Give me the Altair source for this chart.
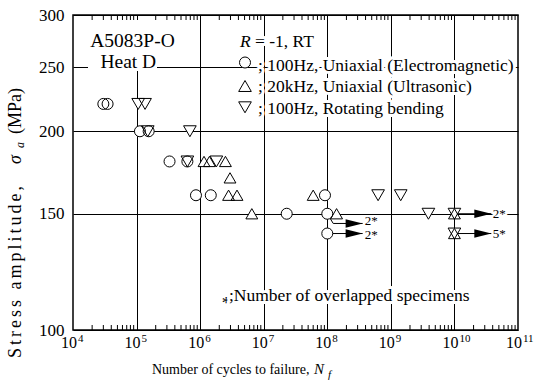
import altair as alt
import pandas as pd

W, H = 445, 315
FONT = "Liberation Serif"

# ---------------- data ----------------
series_names = ["100Hz, Uniaxial (Electromagnetic)",
                "20kHz, Uniaxial (Ultrasonic)",
                "100Hz, Rotating bending"]
series_shapes = ["circle", "triangle-up", "triangle-down"]

circ_N = [3.0e4, 3.5e4, 1.13e5, 1.55e5, 3.3e5, 6.3e5, 8.6e5, 1.47e6, 2.3e7, 9.2e7, 1.0e8, 1.0e8]
circ_S = [220, 220, 200, 200, 180, 180, 160, 160, 150, 160, 150, 140]
up_N = [1.15e6, 1.4e6, 2.5e6, 2.95e6, 2.8e6, 3.8e6, 6.5e6, 6.0e7, 1.4e8, 1.0e10, 1.0e10]
up_S = [180, 180, 180, 170, 160, 160, 150, 160, 150, 150, 140]
dn_N = [1.06e5, 1.36e5, 1.5e5, 6.9e5, 6.3e5, 1.8e6, 6.3e8, 1.43e9, 3.9e9, 1.0e10, 1.0e10]
dn_S = [220, 220, 200, 200, 180, 180, 160, 160, 150, 150, 140]

# run-out arrows (polyline from specimen to arrow tip)
arrow_id = ["a", "a", "a", "b", "b", "c", "c", "d", "d"]
arrow_seq = [0, 1, 2, 0, 1, 0, 1, 0, 1]
arrow_N = [1.0e8, 1.24e8, 3.6e8, 1.0e8, 3.6e8, 1.0e10, 3.8e10, 1.0e10, 3.8e10]
arrow_S = [150, 145, 145, 140, 140, 150, 150, 140, 140]
tip_N = [3.6e8, 3.6e8, 3.8e10, 3.8e10]
tip_S = [145, 140, 150, 140]
run_labels = ["2*", "2*", "2*", "5*"]
run_label_N = [3.9e8, 3.9e8, 4.0e10, 4.0e10]
run_label_S = [146.5, 139.3, 150, 140]
run_label_halo = [False, False, True, False]

decade_exps = [4, 5, 6, 7, 8, 9, 10, 11]
y_ticks = [100, 150, 200, 250, 300]
x_grid = [1e5, 1e6, 1e7, 1e8, 1e9, 1e10]
minor_N = [m * 10 ** k for k in range(4, 11) for m in range(2, 10)]

# ---------------- scales / axes ----------------
xscale = alt.Scale(type="log", domain=[1e4, 1e11], nice=False)
yscale = alt.Scale(type="log", domain=[100, 300], nice=False)
xaxis = alt.Axis(values=x_grid, grid=True, labels=False, ticks=False, domain=False,
                 title=None, gridColor="black", gridWidth=1, gridOpacity=1)
yaxis = alt.Axis(values=y_ticks, grid=True, ticks=False, domain=False, title=None,
                 labelFont=FONT, labelFontSize=17, labelColor="black", labelPadding=9,
                 labelOverlap=False, format="d", gridColor="black", gridWidth=1, gridOpacity=1)


def X():
    return alt.X("N:Q", scale=xscale, axis=xaxis)


def Y():
    return alt.Y("S:Q", scale=yscale, axis=yaxis)


pts = pd.DataFrame({
    "N": circ_N + up_N + dn_N,
    "S": circ_S + up_S + dn_S,
    "series": [series_names[0]] * len(circ_N) + [series_names[1]] * len(up_N)
              + [series_names[2]] * len(dn_N),
})
shape_enc = alt.Shape("series:N", scale=alt.Scale(domain=series_names, range=series_shapes), legend=None)
size_enc = alt.Size("series:N", scale=alt.Scale(domain=series_names, range=[121, 160, 160]), legend=None)

ARROW = "M-2,-0.5L0,0L-2,0.5Z"


def one():
    return pd.DataFrame({"k": [0]})


def label(s, x, y, size=17.5, italic=False, align="left", angle=0, halo=True, halo_w=6):
    df = pd.DataFrame({"t": [s]})
    base = alt.Chart(df).encode(text="t:N", x=alt.value(x), y=alt.value(y))
    kw = dict(font=FONT, fontSize=size, align=align, baseline="alphabetic")
    if italic:
        kw["fontStyle"] = "italic"
    if angle:
        kw["angle"] = angle
    out = []
    if halo:
        out.append(base.mark_text(fill="white", stroke="white", strokeWidth=halo_w,
                                  strokeJoin="round", **kw))
    out.append(base.mark_text(color="black", **kw))
    return out


def box(x1, x2, y1, y2):
    return alt.Chart(one()).mark_rect(color="white").encode(
        x=alt.value(x1), x2=alt.value(x2), y=alt.value(y1), y2=alt.value(y2))


layers = []

# white boxes behind the sample label
layers.append(box(15, 104, 5, 37))
layers.append(box(15, 84, 37, 56))

# minor ticks (inward, bottom and top)
minor_df = pd.DataFrame({"N": minor_N})
layers.append(alt.Chart(minor_df).mark_rule(color="black", strokeWidth=1).encode(
    x=X(), y=alt.value(H), y2=alt.value(H - 5)))
layers.append(alt.Chart(minor_df).mark_rule(color="black", strokeWidth=1).encode(
    x=X(), y=alt.value(0), y2=alt.value(5)))

# x tick labels 10^k
tick_df = pd.DataFrame({"N": [10.0 ** k for k in decade_exps],
                        "base": ["10"] * len(decade_exps),
                        "exp": [str(k) for k in decade_exps]})
layers.append(alt.Chart(tick_df).mark_text(font=FONT, fontSize=16, align="right", dx=4,
                                           baseline="alphabetic", color="black").encode(
    x=X(), y=alt.value(333), text="base:N"))
layers.append(alt.Chart(tick_df).mark_text(font=FONT, fontSize=11, align="left", dx=5,
                                           baseline="alphabetic", color="black").encode(
    x=X(), y=alt.value(326.5), text="exp:N"))

# annotations
layers += label("A5083P-O", 59.5, 31.7, size=19.5, align="center", halo=False)
layers += label("Heat D", 55.3, 53.3, size=19.5, align="center", halo=False)
layers += label("R", 167, 32, italic=True)
layers += label("= -1, RT", 182, 32)
for s, yb in zip(series_names, [55.5, 77, 98.5]):
    layers += label("; " + s, 185, yb)
layers += label("*", 148.7, 292.5)
layers += label(";Number of overlapped specimens", 156, 286)

# run-out labels
rl_df = pd.DataFrame({"N": run_label_N, "S": run_label_S, "lab": run_labels,
                      "halo": run_label_halo})
rl_halo = alt.Chart(rl_df[rl_df["halo"]]).encode(x=X(), y=Y(), text="lab:N")
layers.append(rl_halo.mark_text(font=FONT, fontSize=13, align="left", baseline="middle",
                                fill="white", stroke="white", strokeWidth=5, strokeJoin="round"))
layers.append(alt.Chart(rl_df).mark_text(font=FONT, fontSize=13, align="left", baseline="middle",
                                         color="black").encode(x=X(), y=Y(), text="lab:N"))

# arrow lines
arr_df = pd.DataFrame({"N": arrow_N, "S": arrow_S, "arrow": arrow_id, "seq": arrow_seq})
layers.append(alt.Chart(arr_df).mark_line(color="black", strokeWidth=1).encode(
    x=X(), y=Y(), detail="arrow:N", order="seq:Q"))

# markers: white fills, then outlines
layers.append(alt.Chart(pts).mark_point(filled=True, color="white", opacity=1, strokeWidth=0).encode(
    x=X(), y=Y(), shape=shape_enc, size=size_enc))
layers.append(alt.Chart(pts).mark_point(filled=False, color="black", opacity=1, strokeWidth=1).encode(
    x=X(), y=Y(), shape=shape_enc, size=size_enc))

# arrow heads
tip_df = pd.DataFrame({"N": tip_N, "S": tip_S})
layers.append(alt.Chart(tip_df).mark_point(shape=ARROW, filled=True, color="black", opacity=1,
                                           size=289, strokeWidth=0).encode(x=X(), y=Y()))

# legend symbols
for shp, sz, yy in zip(series_shapes, [121, 160, 160], [47.5, 71, 92.3]):
    layers.append(alt.Chart(one()).mark_point(shape=shp, size=sz, filled=True, color="white",
                                              opacity=1, strokeWidth=0).encode(
        x=alt.value(172), y=alt.value(yy)))
    layers.append(alt.Chart(one()).mark_point(shape=shp, size=sz, filled=False, color="black",
                                              opacity=1, strokeWidth=1).encode(
        x=alt.value(172), y=alt.value(yy)))

# axis titles
layers += label("Number of cycles to failure,", 79, 359, size=14, halo=False)
layers += label("N", 241, 359, size=15, italic=True, halo=False)
layers += label("f", 255, 363, size=11, italic=True, halo=False)

layers += label("\u2006".join("Stress amplitude,"), -52, 343, size=18, angle=270, halo=False)
layers += label("\u03c3", -52, 149, size=18, italic=True, angle=270, halo=False)
layers += label("a", -49, 133, size=12, italic=True, angle=270, halo=False)
layers += label("(MPa)", -52, 119, size=18, angle=270, halo=False)

chart = alt.layer(*layers).properties(
    width=W, height=H,
    autosize=alt.AutoSizeParams(type="none"),
    padding={"left": 73, "top": 15, "right": 24, "bottom": 57},
    background="white",
).configure_view(stroke="black", strokeWidth=1.5)

chart.save("out.html", embed_options={"renderer": "svg", "actions": False})
